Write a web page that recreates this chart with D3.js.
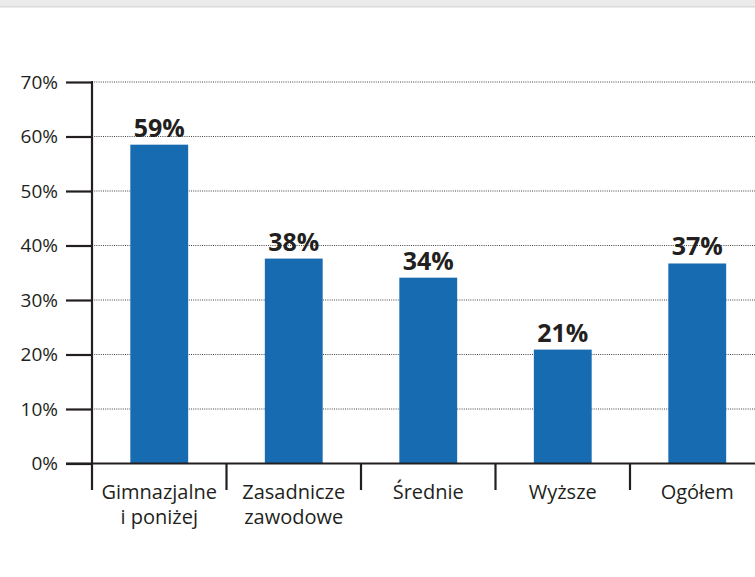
<!DOCTYPE html>
<html>
<head>
<meta charset="utf-8">
<script src="https://cdn.jsdelivr.net/npm/d3@7"></script>
<style>
  body { margin: 0; background: #fff; }
  svg { display: block; }
</style>
</head>
<body>
<div id="chart"></div>
<script>
// data
var categories = [["Gimnazjalne", "i poniżej"], ["Zasadnicze", "zawodowe"], ["Średnie"], ["Wyższe"], ["Ogółem"]];
var values = [58.5, 37.6, 34.1, 20.9, 36.7];
var valueLabels = ["59%", "38%", "34%", "21%", "37%"];
var yTicks = [0, 10, 20, 30, 40, 50, 60, 70];

var W = 755, H = 577;
var ink = "#231f20";

var svg = d3.select("#chart")
    .append("svg")
    .attr("width", W)
    .attr("height", H);

// top strip
svg.append("rect").attr("x", 0).attr("y", 0).attr("width", W).attr("height", 6).attr("fill", "#ebebeb");
svg.append("rect").attr("x", 0).attr("y", 6).attr("width", W).attr("height", 1.5).attr("fill", "#d9d9d9");

var x = d3.scaleBand()
    .domain(d3.range(categories.length))
    .range([92, 92 + 134.5 * categories.length])
    .paddingInner(0.57)
    .paddingOuter(0.285);

var y = d3.scaleLinear().domain([0, 70]).range([463.5, 82]);

// grid
svg.append("g")
    .selectAll("line")
    .data(yTicks.filter(function (d) { return d > 0; }))
    .enter()
    .append("line")
    .attr("x1", 92)
    .attr("x2", W)
    .attr("y1", function (d) { return y(d); })
    .attr("y2", function (d) { return y(d); })
    .attr("stroke", "#444")
    .attr("stroke-width", 1)
    .attr("stroke-dasharray", "1,1.2");

// bars
svg.append("g")
    .selectAll("rect")
    .data(values)
    .enter()
    .append("rect")
    .attr("x", function (d, i) { return x(i); })
    .attr("y", function (d) { return y(d); })
    .attr("width", x.bandwidth())
    .attr("height", function (d) { return y(0) - y(d); })
    .attr("fill", "#176bb1");

// value labels
svg.append("g")
    .selectAll("text")
    .data(values)
    .enter()
    .append("text")
    .attr("x", function (d, i) { return x(i) + x.bandwidth() / 2; })
    .attr("y", function (d) { return y(d) - 8; })
    .attr("text-anchor", "middle")
    .attr("font-family", "'Open Sans', sans-serif")
    .attr("font-weight", "bold")
    .attr("font-size", 25)
    .attr("fill", ink)
    .text(function (d, i) { return valueLabels[i]; });

// y axis
var yAxis = d3.axisLeft(y)
    .tickValues(yTicks)
    .tickSize(26)
    .tickPadding(8)
    .tickFormat(function (d) { return d + "%"; });

var gy = svg.append("g")
    .attr("transform", "translate(92,0)")
    .call(yAxis);
gy.select(".domain").remove();
gy.selectAll(".tick line").attr("stroke", ink).attr("stroke-width", 2.2);
gy.selectAll(".tick text")
    .attr("font-family", "'Open Sans', sans-serif")
    .attr("font-size", 19)
    .attr("fill", ink);

svg.append("line")
    .attr("x1", 92).attr("x2", 92)
    .attr("y1", y(70) - 1).attr("y2", 490)
    .attr("stroke", ink).attr("stroke-width", 2.2);

// x axis baseline
svg.append("line")
    .attr("x1", 66).attr("x2", W)
    .attr("y1", y(0)).attr("y2", y(0))
    .attr("stroke", ink).attr("stroke-width", 2.2);

// category separators
svg.append("g")
    .selectAll("line")
    .data(d3.range(1, categories.length))
    .enter()
    .append("line")
    .attr("x1", function (i) { return x(i) - x.step() * x.paddingInner() / 2; })
    .attr("x2", function (i) { return x(i) - x.step() * x.paddingInner() / 2; })
    .attr("y1", y(0))
    .attr("y2", 490)
    .attr("stroke", ink)
    .attr("stroke-width", 2.2);

// category labels
var cat = svg.append("g")
    .selectAll("text")
    .data(categories)
    .enter()
    .append("text")
    .attr("x", function (d, i) { return x(i) + x.bandwidth() / 2; })
    .attr("y", 499)
    .attr("text-anchor", "middle")
    .attr("font-family", "'Open Sans', sans-serif")
    .attr("font-size", 20)
    .attr("fill", ink);

cat.selectAll("tspan")
    .data(function (d) { return d; })
    .enter()
    .append("tspan")
    .attr("x", function () { return this.parentNode.getAttribute("x"); })
    .attr("dy", function (d, j) { return j === 0 ? 0 : 25; })
    .text(function (d) { return d; });
</script>
</body>
</html>
